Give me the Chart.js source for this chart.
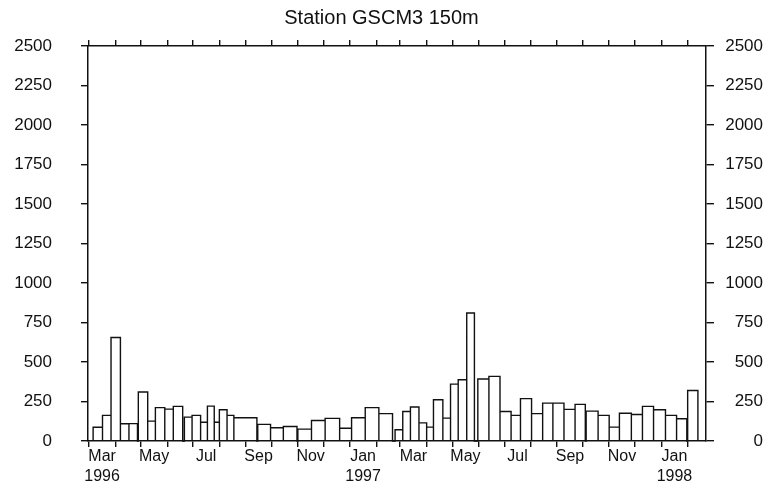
<!DOCTYPE html>
<html>
<head>
<meta charset="utf-8">
<script src="https://cdn.jsdelivr.net/npm/chart.js@4"></script>
<style>
html, body { margin: 0; padding: 0; background: #fff; }
</style>
</head>
<body>
<canvas id="chart" width="768" height="488"></canvas>
<script>
// bar intervals in days after 1 Mar 1996, value on the y axis
var barStart = [5, 16, 26, 37, 47, 58, 69, 78, 89, 99, 112, 121, 131, 139, 147, 153, 162, 170, 198, 213,
    228, 245, 261, 277, 294, 308, 324, 340, 359, 368, 377, 387, 396, 404, 415, 424, 433, 443, 456, 469,
    482, 495, 506, 519, 532, 544, 557, 570, 583, 597, 610, 622, 636, 649, 662, 676, 689, 702];
var barEnd = [16, 26, 37, 47, 57, 69, 78, 89, 99, 110, 121, 131, 139, 147, 153, 162, 170, 197, 213, 228,
    244, 261, 277, 294, 308, 324, 340, 356, 368, 377, 387, 396, 404, 415, 424, 433, 443, 452, 469, 482,
    495, 506, 519, 532, 544, 557, 570, 582, 597, 610, 622, 636, 649, 662, 676, 689, 701, 714];
var barValue = [87, 162, 655, 109, 110, 310, 126, 211, 202, 219, 151, 162, 119, 221, 119, 198, 162, 147, 105, 84,
    92, 75, 130, 143, 81, 147, 211, 173, 71, 187, 215, 115, 88, 261, 145, 360, 388, 810, 392, 409,
    187, 162, 268, 173, 240, 240, 200, 232, 189, 162, 88, 176, 168, 219, 198, 162, 141, 320];

var monthLabels = ['Mar', 'May', 'Jul', 'Sep', 'Nov', 'Jan', 'Mar', 'May', 'Jul', 'Sep', 'Nov', 'Jan'];
var yearLabels = ['1996', '', '', '', '', '1997', '', '', '', '', '', '1998'];

var xMin = -1, xMax = 723.5;

var day0 = Date.UTC(1996, 2, 1);
function dayOf(y, m) {
    return (Date.UTC(y, m, 1) - day0) / 864e5;
}

// month starts get tick marks, month middles get the names
var monthStarts = [];
for (var m = 0; m < 24; m++) monthStarts.push(dayOf(1996, 2 + m));

var labelAt = new Map();
monthLabels.forEach(function (name, i) {
    var mid = (dayOf(1996, 2 + 2 * i) + dayOf(1996, 3 + 2 * i)) / 2;
    labelAt.set(mid, yearLabels[i] ? [name, yearLabels[i]] : name);
});

// each bar is an outlined rectangle from the baseline
var outline = [];
for (var i = 0; i < barValue.length; i++) {
    outline.push({ x: barStart[i], y: 0 });
    outline.push({ x: barStart[i], y: barValue[i] });
    outline.push({ x: barEnd[i], y: barValue[i] });
    outline.push({ x: barEnd[i], y: 0 });
}

var font = 'Liberation Sans, Arial, sans-serif';
var ink = '#111';

function tickColor(ctx) {
    return ctx.tick && labelAt.has(ctx.tick.value) ? 'rgba(0,0,0,0)' : ink;
}
function plainNumber(value) {
    return String(value);
}

var ctx = document.getElementById('chart').getContext('2d');
var chart = new Chart(ctx, {
    type: 'scatter',
    data: {
        datasets: [{
            data: outline,
            showLine: true,
            borderColor: ink,
            borderWidth: 1.4,
            pointRadius: 0,
            fill: false,
            tension: 0,
            clip: false
        }]
    },
    options: {
        responsive: false,
        animation: false,
        layout: { padding: { left: 0, right: 5, top: 0, bottom: 0 } },
        plugins: {
            legend: { display: false },
            tooltip: { enabled: false },
            title: {
                display: true,
                text: 'Station GSCM3 150m',
                color: ink,
                font: { family: font, size: 20, weight: 'normal' },
                padding: { top: 6, bottom: 8 }
            }
        },
        scales: {
            x: {
                type: 'linear',
                position: 'bottom',
                min: xMin,
                max: xMax,
                afterBuildTicks: function (scale) {
                    var t = monthStarts.map(function (v) { return { value: v }; });
                    labelAt.forEach(function (lab, v) { t.push({ value: v }); });
                    t.sort(function (a, b) { return a.value - b.value; });
                    scale.ticks = t;
                },
                afterFit: function (scale) { scale.height = 47; },
                ticks: {
                    autoSkip: false,
                    maxRotation: 0,
                    padding: 0,
                    color: ink,
                    font: { family: font, size: 16, lineHeight: 1.25 },
                    callback: function (value) {
                        return labelAt.has(value) ? labelAt.get(value) : '';
                    }
                },
                grid: { drawOnChartArea: false, tickLength: 6, color: tickColor, tickColor: tickColor, lineWidth: 1.4 },
                border: { display: true, color: ink, width: 1.5 }
            },
            xTop: {
                type: 'linear',
                position: 'top',
                min: xMin,
                max: xMax,
                afterBuildTicks: function (scale) {
                    scale.ticks = monthStarts.map(function (v) { return { value: v }; });
                },
                afterFit: function (scale) { scale.height = 8; },
                ticks: { display: false },
                grid: { drawOnChartArea: false, tickLength: 6, color: ink, lineWidth: 1.4 },
                border: { display: true, color: ink, width: 1.5 }
            },
            y: {
                position: 'left',
                min: 0,
                max: 2500,
                afterFit: function (scale) { scale.width = 88; },
                ticks: {
                    stepSize: 250,
                    padding: 29,
                    color: ink,
                    font: { family: font, size: 17 },
                    callback: plainNumber
                },
                grid: { drawOnChartArea: false, tickLength: 7, color: ink, lineWidth: 1.4 },
                border: { display: true, color: ink, width: 1.5 }
            },
            y2: {
                position: 'right',
                min: 0,
                max: 2500,
                afterFit: function (scale) { scale.width = 57; },
                ticks: {
                    stepSize: 250,
                    crossAlign: 'far',
                    color: ink,
                    font: { family: font, size: 17 },
                    callback: plainNumber
                },
                grid: { drawOnChartArea: false, tickLength: 8, color: ink, lineWidth: 1.4 },
                border: { display: true, color: ink, width: 1.5 }
            }
        }
    }
});
</script>
</body>
</html>
